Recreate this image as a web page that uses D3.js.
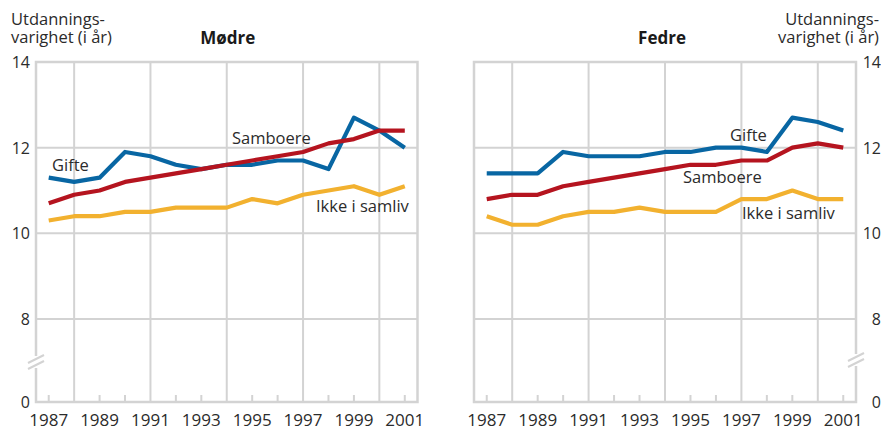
<!DOCTYPE html>
<html><head><meta charset="utf-8">
<script src="https://cdn.jsdelivr.net/npm/d3@7"></script>
<style>
html,body{margin:0;padding:0;background:#fff;}
svg{display:block;font-family:"Open Sans","Noto Sans",sans-serif;}
</style></head>
<body>
<svg id="c" width="881" height="430"></svg>
<script>
// ---- data ----
const years = [1987,1988,1989,1990,1991,1992,1993,1994,1995,1996,1997,1998,1999,2000,2001];
const yearLabels = [1987,1989,1991,1993,1995,1997,1999,2001];
const gridYears = [1988,1991,1994,1997,2000];
const yTicks = [0,8,10,12,14];
const seriesNames = ["Gifte","Samboere","Ikke i samliv"];
const seriesColors = ["#0866a3","#b5141f","#f2b12f"];

const modreGifte    = [11.3,11.2,11.3,11.9,11.8,11.6,11.5,11.6,11.6,11.7,11.7,11.5,12.7,12.4,12.0];
const modreSamboere = [10.7,10.9,11.0,11.2,11.3,11.4,11.5,11.6,11.7,11.8,11.9,12.1,12.2,12.4,12.4];
const modreIkke     = [10.3,10.4,10.4,10.5,10.5,10.6,10.6,10.6,10.8,10.7,10.9,11.0,11.1,10.9,11.1];

const fedreGifte    = [11.4,11.4,11.4,11.9,11.8,11.8,11.8,11.9,11.9,12.0,12.0,11.9,12.7,12.6,12.4];
const fedreSamboere = [10.8,10.9,10.9,11.1,11.2,11.3,11.4,11.5,11.6,11.6,11.7,11.7,12.0,12.1,12.0];
const fedreIkke     = [10.4,10.2,10.2,10.4,10.5,10.5,10.6,10.5,10.5,10.5,10.8,10.8,11.0,10.8,10.8];

const svg = d3.select("#c");
const gridCol = "#d3d3d3";
const textCol = "#2b2b2b";

const y = d3.scaleLinear().domain([0,8,14]).range([402,319,62]);

function panel(cfg){
  const x = d3.scaleLinear().domain([1986.5,2001.5]).range([cfg.x0,cfg.x1]);
  const g = svg.append("g");
  // horizontal gridlines
  g.selectAll("line.h").data([8,10,12]).join("line")
    .attr("x1",cfg.x0).attr("x2",cfg.x1)
    .attr("y1",d=>y(d)).attr("y2",d=>y(d))
    .attr("stroke",gridCol).attr("stroke-width",2);
  // vertical gridlines
  g.selectAll("line.v").data(gridYears).join("line")
    .attr("x1",d=>x(d)).attr("x2",d=>x(d))
    .attr("y1",y(14)).attr("y2",y(0))
    .attr("stroke",gridCol).attr("stroke-width",2);
  // small ticks at bottom
  g.selectAll("line.t").data(years.filter(v=>!gridYears.includes(v))).join("line")
    .attr("x1",d=>x(d)).attr("x2",d=>x(d))
    .attr("y1",y(0)).attr("y2",y(0)-7)
    .attr("stroke",gridCol).attr("stroke-width",2);
  // frame
  g.append("rect").attr("x",cfg.x0).attr("y",y(14))
    .attr("width",cfg.x1-cfg.x0).attr("height",y(0)-y(14))
    .attr("fill","none").attr("stroke",gridCol).attr("stroke-width",2.5);
  // break mark
  const bx = cfg.breakX, by = cfg.breakY;
  g.append("rect").attr("x",bx-3).attr("y",by-6).attr("width",6).attr("height",12).attr("fill","#fff");
  [-3,3].forEach(o=>{
    g.append("line").attr("x1",bx-8).attr("y1",by+o+4).attr("x2",bx+8).attr("y2",by+o-4)
      .attr("stroke",gridCol).attr("stroke-width",2);
  });
  // x labels
  g.selectAll("text.x").data(yearLabels).join("text")
    .attr("x",d=>x(d)).attr("y",426).attr("text-anchor","middle")
    .attr("font-size",17).attr("fill",textCol).text(d=>d);
  // y labels
  g.selectAll("text.y").data(yTicks).join("text")
    .attr("x",cfg.ylabX).attr("y",d=>y(d)+6).attr("text-anchor",cfg.ylabAnchor)
    .attr("font-size",16).attr("fill",textCol).text(d=>d);
  // lines
  const line = d3.line().x((d,i)=>x(years[i])).y(d=>y(d));
  cfg.series.forEach((s,i)=>{
    g.append("path").datum(s).attr("d",line)
      .attr("fill","none").attr("stroke",seriesColors[i]).attr("stroke-width",4.2)
      .attr("stroke-linejoin","round");
  });
  // series labels
  cfg.labels.forEach((l,i)=>{
    g.append("text").attr("x",l[0]).attr("y",l[1]).attr("font-size",16.5)
      .attr("fill",textCol).text(seriesNames[i]);
  });
  // title
  g.append("text").attr("x",(cfg.x0+cfg.x1)/2+cfg.titleDx).attr("y",44).attr("text-anchor","middle")
    .attr("font-size",17).attr("font-weight","bold").attr("fill","#1a1a1a").text(cfg.title);
  // axis title
  const t = g.append("text").attr("font-size",16.5).attr("fill",textCol).attr("text-anchor",cfg.atAnchor);
  t.append("tspan").attr("x",cfg.atX).attr("y",25).text("Utdannings-");
  t.append("tspan").attr("x",cfg.atX).attr("y",43).text("varighet (i år)");
}

panel({x0:36,x1:417.5,title:"Mødre",titleDx:1,series:[modreGifte,modreSamboere,modreIkke],
  labels:[[52,171],[232,144],[316,212]],breakX:36,breakY:362,
  ylabX:30,ylabAnchor:"end",atX:11,atAnchor:"start"});
panel({x0:474,x1:856,title:"Fedre",titleDx:-3,series:[fedreGifte,fedreSamboere,fedreIkke],
  labels:[[730,141],[683,183],[742,219]],breakX:856,breakY:360,
  ylabX:881,ylabAnchor:"end",atX:879,atAnchor:"end"});
</script>
</body></html>
